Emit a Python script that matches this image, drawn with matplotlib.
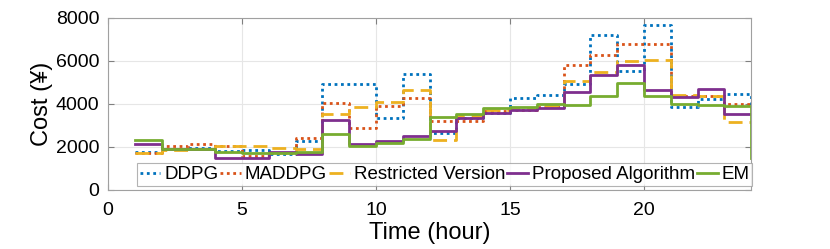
import matplotlib
matplotlib.use("Agg")
import matplotlib.pyplot as plt
import numpy as np

plt.rcParams['font.family'] = ['Liberation Sans', 'DejaVu Sans']

hours = list(range(1, 25))

ddpg = [1780, 1920, 1940, 1835, 1866, 1690, 2270, 4945, 4945, 3344, 5397, 2645,
        3350, 3600, 4270, 4400, 4930, 7201, 5552, 7667, 3857, 4230, 4470, 3970]
maddpg = [1742, 2068, 2146, 2053, 1586, 1720, 2426, 4043, 2877, 3919, 4277, 3230,
          3230, 3656, 3733, 3880, 5832, 6299, 6796, 6796, 4386, 4355, 3997, 3997]
restricted = [1742, 1866, 1928, 2022, 2022, 1975, 1928, 3546, 3841, 4075, 4666, 2333,
              3422, 3740, 3780, 3920, 5086, 5474, 6019, 6065, 4432, 4355, 3157, 3157]
proposed = [2130, 1897, 1928, 1477, 1477, 1788, 1680, 3235, 2146, 2255, 2488, 2722,
            3345, 3560, 3720, 3811, 4541, 5334, 5832, 4635, 4308, 4697, 3546, 3546]
em = [2317, 1897, 1928, 1773, 1710, 1710, 1788, 2597, 2022, 2177, 2364, 3400,
      3540, 3820, 3842, 3980, 3950, 4355, 4977, 4355, 3997, 3950, 3919, 1490]

labels = ['DDPG', 'MADDPG', 'Restricted Version', 'Proposed Algorithm', 'EM']
colors = ['#0072BD', '#D95319', '#EDB120', '#7E2F8E', '#77AC30']
styles = [(0, (1, 1.3)), (0, (1, 1.3)), (0, (5, 2.5)), '-', '-']
series = [ddpg, maddpg, restricted, proposed, em]

fig = plt.figure(figsize=(8.3, 2.49), dpi=100)
ax = fig.add_axes([0.130, 0.237, 0.775, 0.691])

for y, lab, c, ls in zip(series, labels, colors, styles):
    ax.step(hours, y, where='post', color=c, linestyle=ls, linewidth=2, label=lab)

ax.set_xlim(0, 24)
ax.set_ylim(0, 8000)
ax.set_xticks([0, 5, 10, 15, 20])
ax.set_yticks([0, 2000, 4000, 6000, 8000])
ax.grid(True, color='#e6e6e6', linewidth=0.8)
ax.set_axisbelow(True)
for s in ax.spines.values():
    s.set_color('#a0a0a0')
    s.set_linewidth(0.8)
ax.tick_params(direction='in', length=4, width=0.8, color='#808080',
               labelsize=14, top=True, right=True)
ax.tick_params(axis='x', pad=9)
ax.tick_params(axis='y', pad=6)
ax.set_xlabel('Time (hour)', fontsize=17, labelpad=2)
ax.set_ylabel('Cost (¥)', fontsize=17, labelpad=2)

leg = ax.legend(loc='lower left', bbox_to_anchor=(0.045, 0.022, 0.957, 0.146),
                mode='expand', ncol=5, fontsize=13.5, handlelength=1.1,
                handletextpad=0.2, columnspacing=0.25, borderpad=0.15,
                borderaxespad=0, frameon=True, fancybox=False)
leg.get_frame().set_edgecolor('#a0a0a0')
leg.get_frame().set_linewidth(0.8)

fig.savefig('out.png', dpi=100)
